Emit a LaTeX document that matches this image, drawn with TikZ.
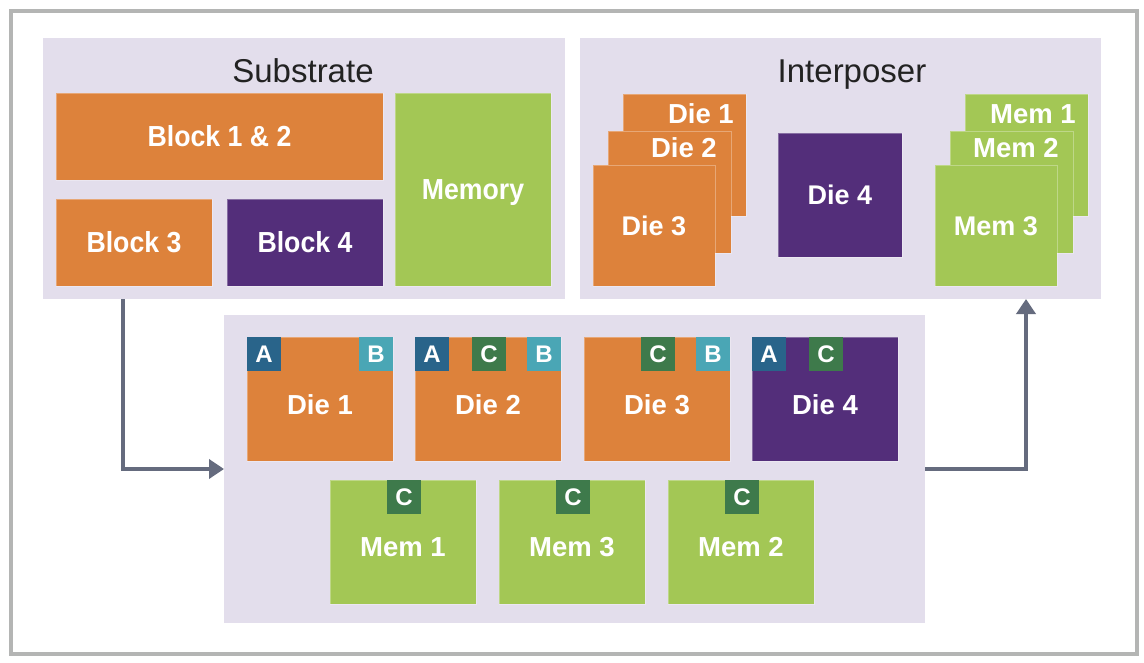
\documentclass[tikz,border=0pt]{standalone}
\usepackage{fontspec}
\setmainfont{Liberation Sans}
\newfontfamily\narrowbold[FakeStretch=0.92]{Liberation Sans Bold}
\usetikzlibrary{arrows.meta}
\definecolor{chipOrange}{HTML}{DD823B}
\definecolor{chipPurple}{HTML}{532E7A}
\definecolor{chipGreen}{HTML}{A3C755}
\definecolor{panelLav}{HTML}{E3DEEC}
\definecolor{tagA}{HTML}{29648A}
\definecolor{tagB}{HTML}{4AA6B5}
\definecolor{tagC}{HTML}{3E7A4B}
\definecolor{arrowGray}{HTML}{656B7E}
\definecolor{frameGray}{HTML}{B4B5B4}
\definecolor{titleGray}{HTML}{222222}
\begin{document}
\begin{tikzpicture}[x=1pt,y=-1pt,
  frame/.style={draw=frameGray, line width=4pt, inner sep=0pt, outer sep=0pt, anchor=north west},
  panel/.style={fill=panelLav, inner sep=0pt, outer sep=0pt, anchor=north west},
  title/.style={inner sep=0pt, text=titleGray, font=\fontsize{33}{36}\selectfont, text height=24pt, text depth=0pt},
  chip/.style={inner sep=0pt, outer sep=0pt, anchor=north west, draw=white, draw opacity=0.3, line width=0.8pt,
    text=white, font=\bfseries\fontsize{27}{30}\selectfont, text height=19pt, text depth=0pt},
  block/.style={font=\narrowbold\fontsize{29}{32}\selectfont, text height=20.5pt},
  lbl/.style={inner sep=0pt, text=white, font=\bfseries\fontsize{27.5}{30}\selectfont, text height=19pt, text depth=0pt},
  tag/.style={inner sep=0pt, outer sep=0pt, minimum size=34pt, text=white,
    font=\bfseries\fontsize{24}{26}\selectfont, text height=17pt, text depth=0pt},
  die/.style={chip, fill=chipOrange, minimum width=146pt, minimum height=124pt},
  mem/.style={chip, fill=chipGreen, minimum width=146pt, minimum height=124pt},
  arr/.style={draw=arrowGray, line width=3.6pt, -{Triangle[length=15pt,width=19pt]}}
]
\useasboundingbox (0,0) rectangle (1144,662);
\fill[white] (0,0) rectangle (1144,662);
\node[frame, minimum width=1126pt, minimum height=643pt] (frm) at (11,11) {};

% panels
\node[panel, minimum width=522pt, minimum height=261pt] (sub) at (43,38) {};
\node[panel, minimum width=521pt, minimum height=261pt] (inter) at (580,38) {};
\node[panel, minimum width=701pt, minimum height=308pt] (bot) at (224,315) {};

\node[title] (subT) at (303,70) {Substrate};
\node[title] (interT) at (852,70) {Interposer};

% substrate
\node[chip, block, fill=chipOrange, minimum width=327pt, minimum height=87pt] (b12) at (56,93) {Block 1 \& 2};
\node[chip, block, fill=chipOrange, minimum width=156pt, minimum height=87pt] (b3) at (56,199) {Block 3};
\node[chip, block, fill=chipPurple, minimum width=156pt, minimum height=87pt] (b4) at (227,199) {Block 4};
\node[chip, block, fill=chipGreen, minimum width=156pt, minimum height=193pt] (memS) at (395,93) {Memory};

% interposer
\node[chip, fill=chipOrange, minimum width=123pt, minimum height=122pt] (iD1) at (623,94) {};
\node[lbl, anchor=base east] (iD1t) at ([xshift=-12pt,yshift=-29pt]iD1.north east) {Die 1};
\node[chip, fill=chipOrange, minimum width=123pt, minimum height=122pt] (iD2) at (608,131) {};
\node[lbl, anchor=base east] (iD2t) at ([xshift=-14pt,yshift=-26pt]iD2.north east) {Die 2};
\node[chip, fill=chipOrange, minimum width=122pt, minimum height=121pt] (iD3) at (593,165) {Die 3};
\node[chip, fill=chipPurple, minimum width=124pt, minimum height=124pt] (iD4) at (778,133) {Die 4};
\node[chip, fill=chipGreen, minimum width=123pt, minimum height=122pt] (iM1) at (965,94) {};
\node[lbl, anchor=base east] (iM1t) at ([xshift=-12pt,yshift=-29pt]iM1.north east) {Mem 1};
\node[chip, fill=chipGreen, minimum width=123pt, minimum height=122pt] (iM2) at (950,131) {};
\node[lbl, anchor=base east] (iM2t) at ([xshift=-14pt,yshift=-26pt]iM2.north east) {Mem 2};
\node[chip, fill=chipGreen, minimum width=122pt, minimum height=121pt] (iM3) at (935,165) {Mem 3};

% bottom dies
\node[die] (d1) at (247,337) {};
\node[die] (d2) at (415,337) {};
\node[die] (d3) at (584,337) {};
\node[die, fill=chipPurple] (d4) at (752,337) {};
\node[lbl] (d1t) at ([yshift=-6pt]d1.center) {Die 1};
\node[lbl] (d2t) at ([yshift=-6pt]d2.center) {Die 2};
\node[lbl] (d3t) at ([yshift=-6pt]d3.center) {Die 3};
\node[lbl] (d4t) at ([yshift=-6pt]d4.center) {Die 4};

\node[tag, fill=tagA, anchor=north west] (d1A) at (d1.north west) {A};
\node[tag, fill=tagB, anchor=north east] (d1B) at (d1.north east) {B};
\node[tag, fill=tagA, anchor=north west] (d2A) at (d2.north west) {A};
\node[tag, fill=tagC, anchor=north west] (d2C) at ([xshift=57pt]d2.north west) {C};
\node[tag, fill=tagB, anchor=north east] (d2B) at (d2.north east) {B};
\node[tag, fill=tagC, anchor=north west] (d3C) at ([xshift=57pt]d3.north west) {C};
\node[tag, fill=tagB, anchor=north east] (d3B) at (d3.north east) {B};
\node[tag, fill=tagA, anchor=north west] (d4A) at (d4.north west) {A};
\node[tag, fill=tagC, anchor=north west] (d4C) at ([xshift=57pt]d4.north west) {C};

% bottom mems
\node[mem] (m1) at (330,480) {};
\node[mem] (m3) at (499,480) {};
\node[mem] (m2) at (668,480) {};
\node[lbl] (m1t) at ([yshift=-5pt]m1.center) {Mem 1};
\node[lbl] (m3t) at ([yshift=-5pt]m3.center) {Mem 3};
\node[lbl] (m2t) at ([yshift=-5pt]m2.center) {Mem 2};
\node[tag, fill=tagC, anchor=north west] (m1C) at ([xshift=57pt]m1.north west) {C};
\node[tag, fill=tagC, anchor=north west] (m3C) at ([xshift=57pt]m3.north west) {C};
\node[tag, fill=tagC, anchor=north west] (m2C) at ([xshift=57pt]m2.north west) {C};

% arrows
\draw[arr] (sub.south -| 123,0) |- (bot.west);
\draw[arr] (bot.east) -| (inter.south -| 1026,0);
\end{tikzpicture}
\end{document}
